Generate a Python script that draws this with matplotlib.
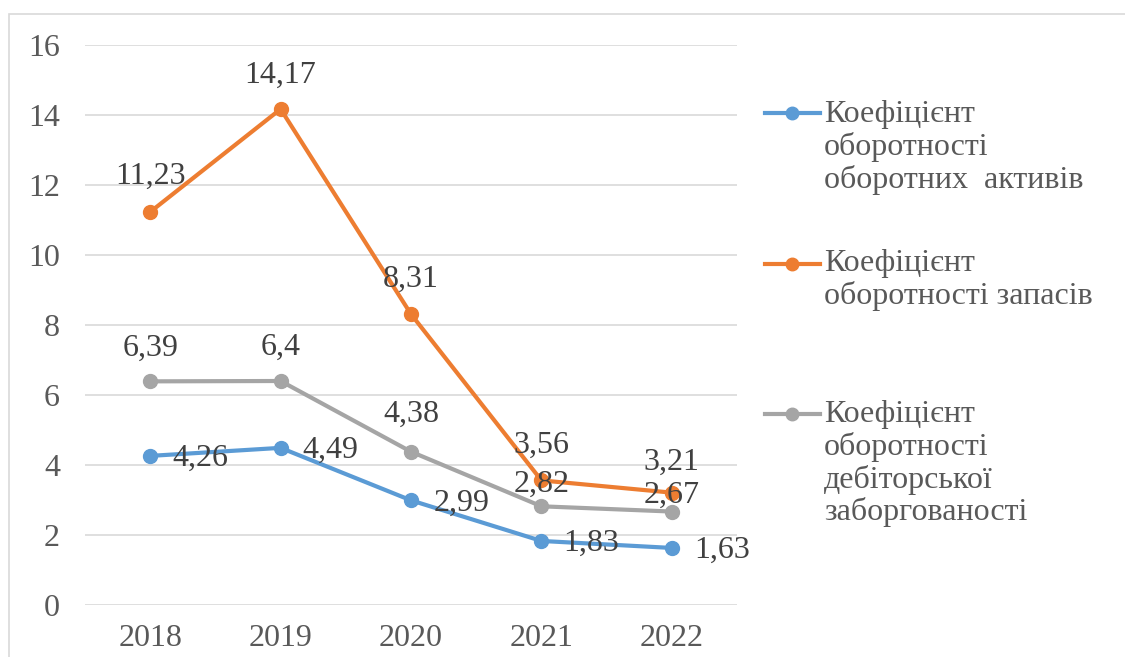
import matplotlib.pyplot as plt
from matplotlib.lines import Line2D
from matplotlib.patches import Rectangle

years = ['2018', '2019', '2020', '2021', '2022']
current_assets = [4.26, 4.49, 2.99, 1.83, 1.63]
inventory = [11.23, 14.17, 8.31, 3.56, 3.21]
receivables = [6.39, 6.4, 4.38, 2.82, 2.67]

names = [
    'Коефіцієнт\nоборотності\nоборотних  активів',
    'Коефіцієнт\nоборотності запасів',
    'Коефіцієнт\nоборотності\nдебіторської\nзаборгованості',
]
colors = ['#5B9BD5', '#ED7D31', '#A5A5A5']
yticks = [0, 2, 4, 6, 8, 10, 12, 14, 16]

plt.rcParams['font.family'] = ['Liberation Serif', 'DejaVu Serif']

FS = 23


def fmt(v):
    return f'{v:g}'.replace('.', ',')


def main():
    W, H = 1125, 657
    fig = plt.figure(figsize=(W / 100, H / 100), dpi=100)
    ax = fig.add_axes([85 / W, 1 - 605 / H, (737 - 85) / W, (605 - 45) / H])

    x = list(range(len(years)))
    series = [current_assets, inventory, receivables]
    # label offsets in points (dx, dy) per point, blue sits to the right
    offsets = [
        [(16, -2)] * 5,
        [(0, 26), (0, 24), (0, 25), (0, 25), (0, 22)],
        [(0, 24), (0, 24), (0, 27), (0, 16), (0, 12)],
    ]
    for vals, c, offs in zip(series, colors, offsets):
        ax.plot(x, vals, color=c, lw=3, marker='o', ms=10, zorder=3,
                solid_capstyle='round')
        for xi, v, (dx, dy) in zip(x, vals, offs):
            ax.annotate(fmt(v), (xi, v), xytext=(dx, dy), textcoords='offset points',
                        ha='left' if dx else 'center', va='center', fontsize=FS,
                        color='#404040', zorder=4)

    ax.set_xlim(-0.5, len(years) - 0.5)
    ax.set_ylim(0, 16)
    ax.set_yticks(yticks)
    ax.set_xticks(x)
    ax.set_xticklabels(years)
    ax.tick_params(length=0, labelsize=FS, labelcolor='#595959')
    ax.tick_params(axis='y', pad=18)
    ax.tick_params(axis='x', pad=14)
    ax.grid(axis='y', color='#D9D9D9', lw=1.2)
    ax.set_axisbelow(True)
    for s in ax.spines.values():
        s.set_visible(False)

    # legend drawn by hand so each marker sits on the first text line
    for name, c, ly, ty in zip(names, colors, [113, 264, 414], [100, 249, 400]):
        fig.add_artist(Line2D([765 / W, 820 / W], [1 - ly / H, 1 - ly / H],
                              color=c, lw=3, transform=fig.transFigure))
        fig.add_artist(Line2D([792 / W], [1 - ly / H], color=c, marker='o', ms=9,
                              transform=fig.transFigure))
        fig.text(824 / W, 1 - ty / H, name, ha='left', va='top', fontsize=FS,
                 color='#595959', linespacing=1.12)

    fig.add_artist(Rectangle((9 / W, -0.1), 1.2, 1 - 14 / H + 0.1, fill=False,
                             edgecolor='#D9D9D9', lw=1.2, transform=fig.transFigure))

    fig.savefig('out.png', dpi=100)


if __name__ == '__main__':
    main()
